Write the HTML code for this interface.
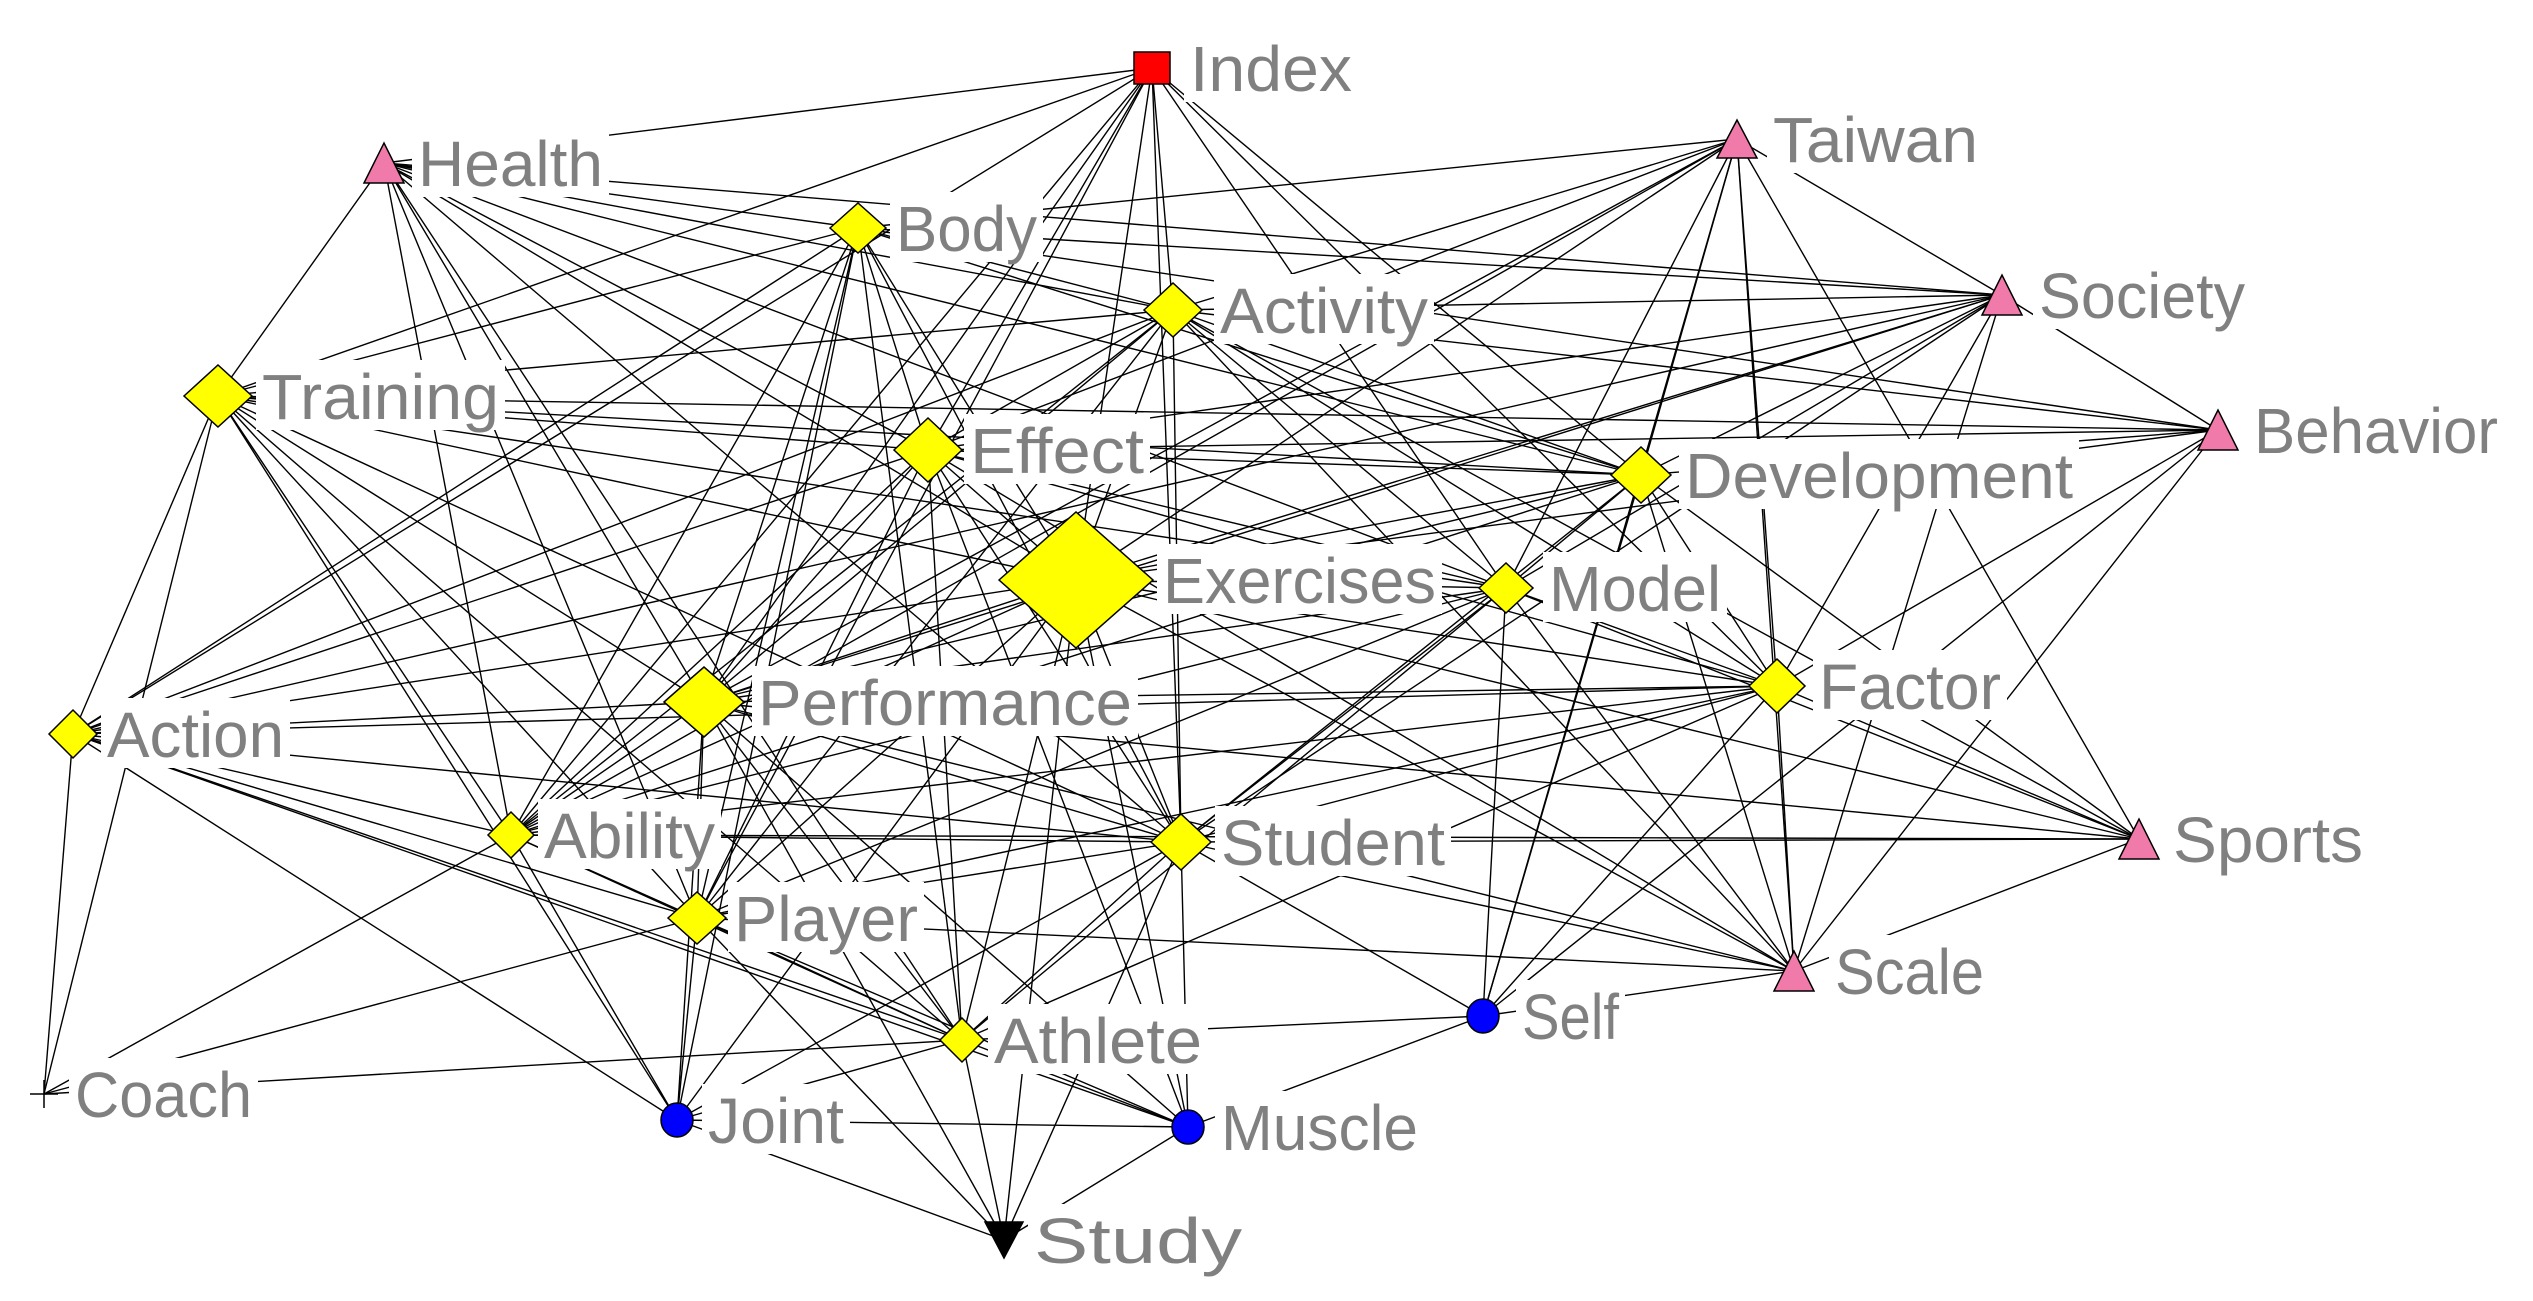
<!DOCTYPE html>
<html><head><meta charset="utf-8"><style>
html,body{margin:0;padding:0;background:#fff;}
svg{display:block;}
text{font-family:"Liberation Sans",sans-serif;font-size:64px;fill:#808080;}
</style></head><body>
<svg id="s" width="2533" height="1301" viewBox="0 0 2533 1301" xmlns="http://www.w3.org/2000/svg">
<rect width="2533" height="1301" fill="#fff"/>
<g id="edges" stroke="#000" stroke-width="1.4"></g>
<g id="labels"></g>
<g id="nodes" stroke="#000" stroke-width="1.5"></g>
</svg>
<div id="t" style="display:none">
<span>Index</span><span>Health</span><span>Body</span><span>Activity</span><span>Training</span><span>Effect</span><span>Exercises</span><span>Development</span><span>Taiwan</span><span>Society</span><span>Behavior</span><span>Model</span><span>Performance</span><span>Factor</span><span>Action</span><span>Ability</span><span>Student</span><span>Sports</span><span>Player</span><span>Scale</span><span>Athlete</span><span>Self</span><span>Coach</span><span>Joint</span><span>Muscle</span><span>Study</span>
</div>
<script>
var N={
IX:[1152,68,'sq',18,16,'Index',1190,162],
HE:[384,163,'tri',20,20,'Health',418,185],
BO:[858,228,'dia',28,25,'Body',896,141],
AC:[1173,310,'dia',29,27,'Activity',1220,208],
TR:[218,396,'dia',34,31,'Training',262,237],
EF:[928,450,'dia',34,32,'Effect',970,174],
EX:[1076,580,'dia',77,68,'Exercises',1163,273],
DE:[1641,475,'dia',30,28,'Development',1685,388],
TA:[1737,139,'tri',20,19,'Taiwan',1773,205],
SO:[2002,295,'tri',20,20,'Society',2039,206],
BE:[2218,430,'tri',20,20,'Behavior',2254,244],
MO:[1506,588,'dia',27,25,'Model',1549,172],
PE:[704,702,'dia',40,35,'Performance',758,374],
FA:[1777,686,'dia',28,27,'Factor',1819,182],
AN:[73,734,'dia',24,24,'Action',107,177],
AB:[511,835,'dia',23,23,'Ability',544,171],
ST:[1181,842,'dia',30,28,'Student',1221,224],
SP:[2139,839,'tri',20,20,'Sports',2173,190],
PL:[697,918,'dia',29,26,'Player',734,184],
SC:[1794,971,'tri',20,20,'Scale',1835,149],
AT:[962,1040,'dia',22,22,'Athlete',994,208],
SE:[1483,1016,'cir',16,17,'Self',1522,97],
CO:[44,1094,'plus',14,14,'Coach',75,177],
JO:[677,1120,'cir',16,17,'Joint',708,136],
MU:[1188,1127,'cir',16,17,'Muscle',1221,197],
SU:[1004,1240,'inv',19,18,'Study',1034,208]
};
var E={
IX:'HE TR AN EF EX PE ST AC DE MO PL AB FA',
HE:'BO AC TR EF EX PE AB PL ST AT DE MO SO',
TA:'BO AC EF EX MO DE FA PE SO SP SC SE AB',
SO:'BO AC EF EX DE MO FA BE ST PE SC AN',
BE:'AC BO EF DE FA EX SE SC TR',
BO:'AC TR EF EX PE AB PL AT ST DE AN JO',
AC:'TR EF EX PE DE MO FA ST PL AB AN SP SC',
TR:'AN CO EF EX PE AB PL AT ST MO DE JO',
EF:'EX PE AB PL AT ST MO DE FA SC AN MU',
EX:'PE AB PL AT ST MO DE FA SP SC AN JO MU SU',
DE:'MO FA PE ST SP SC SE AB',
MO:'FA PE ST AB PL AT SC SE SP',
PE:'AN AB PL AT ST FA SC JO MU SU SP',
FA:'AN ST PL AT SP SC SE AB',
AN:'AB PL AT JO CO ST MU',
AB:'PL ST AT JO CO SP',
ST:'PL AT SP SC SE MU SU JO',
PL:'AT JO SU SC MU CO',
AT:'CO JO MU SU SE',
JO:'MU SU',MU:'SE SU',SC:'SE SP'
};
var ns='http://www.w3.org/2000/svg';
function el(t,a,p){var e=document.createElementNS(ns,t);for(var k in a)e.setAttribute(k,a[k]);p.appendChild(e);return e;}
var ge=document.getElementById('edges'),gl=document.getElementById('labels'),gn=document.getElementById('nodes');
for(var a in E){E[a].split(' ').forEach(function(b){var p=N[a],q=N[b];el('line',{x1:p[0],y1:p[1],x2:q[0],y2:q[1]},ge);});}
for(var k in N){var n=N[k],x=n[0],y=n[1],w=n[3],h=n[4];
 el('rect',{x:n[6]-6,y:y-36,width:n[7]+12,height:70,fill:'#fff'},gl);
 var t=el('text',{x:n[6],y:y+23,textLength:n[7],lengthAdjust:'spacingAndGlyphs'},gl);t.textContent=n[5];
 if(n[2]=='dia')el('polygon',{points:(x-w)+','+y+' '+x+','+(y-h)+' '+(x+w)+','+y+' '+x+','+(y+h),fill:'#ffff00'},gn);
 else if(n[2]=='tri')el('polygon',{points:(x-w)+','+(y+h)+' '+x+','+(y-h)+' '+(x+w)+','+(y+h),fill:'#f07aaa'},gn);
 else if(n[2]=='inv')el('polygon',{points:(x-w)+','+(y-h)+' '+(x+w)+','+(y-h)+' '+x+','+(y+h),fill:'#000'},gn);
 else if(n[2]=='sq')el('rect',{x:x-w,y:y-h,width:2*w,height:2*h,fill:'#ff0000'},gn);
 else if(n[2]=='cir')el('ellipse',{cx:x,cy:y,rx:w,ry:h,fill:'#0000ff'},gn);
 else {el('line',{x1:x-w,y1:y,x2:x+w,y2:y},gn);el('line',{x1:x,y1:y-h,x2:x,y2:y+h},gn);}
}
</script>
</body></html>
